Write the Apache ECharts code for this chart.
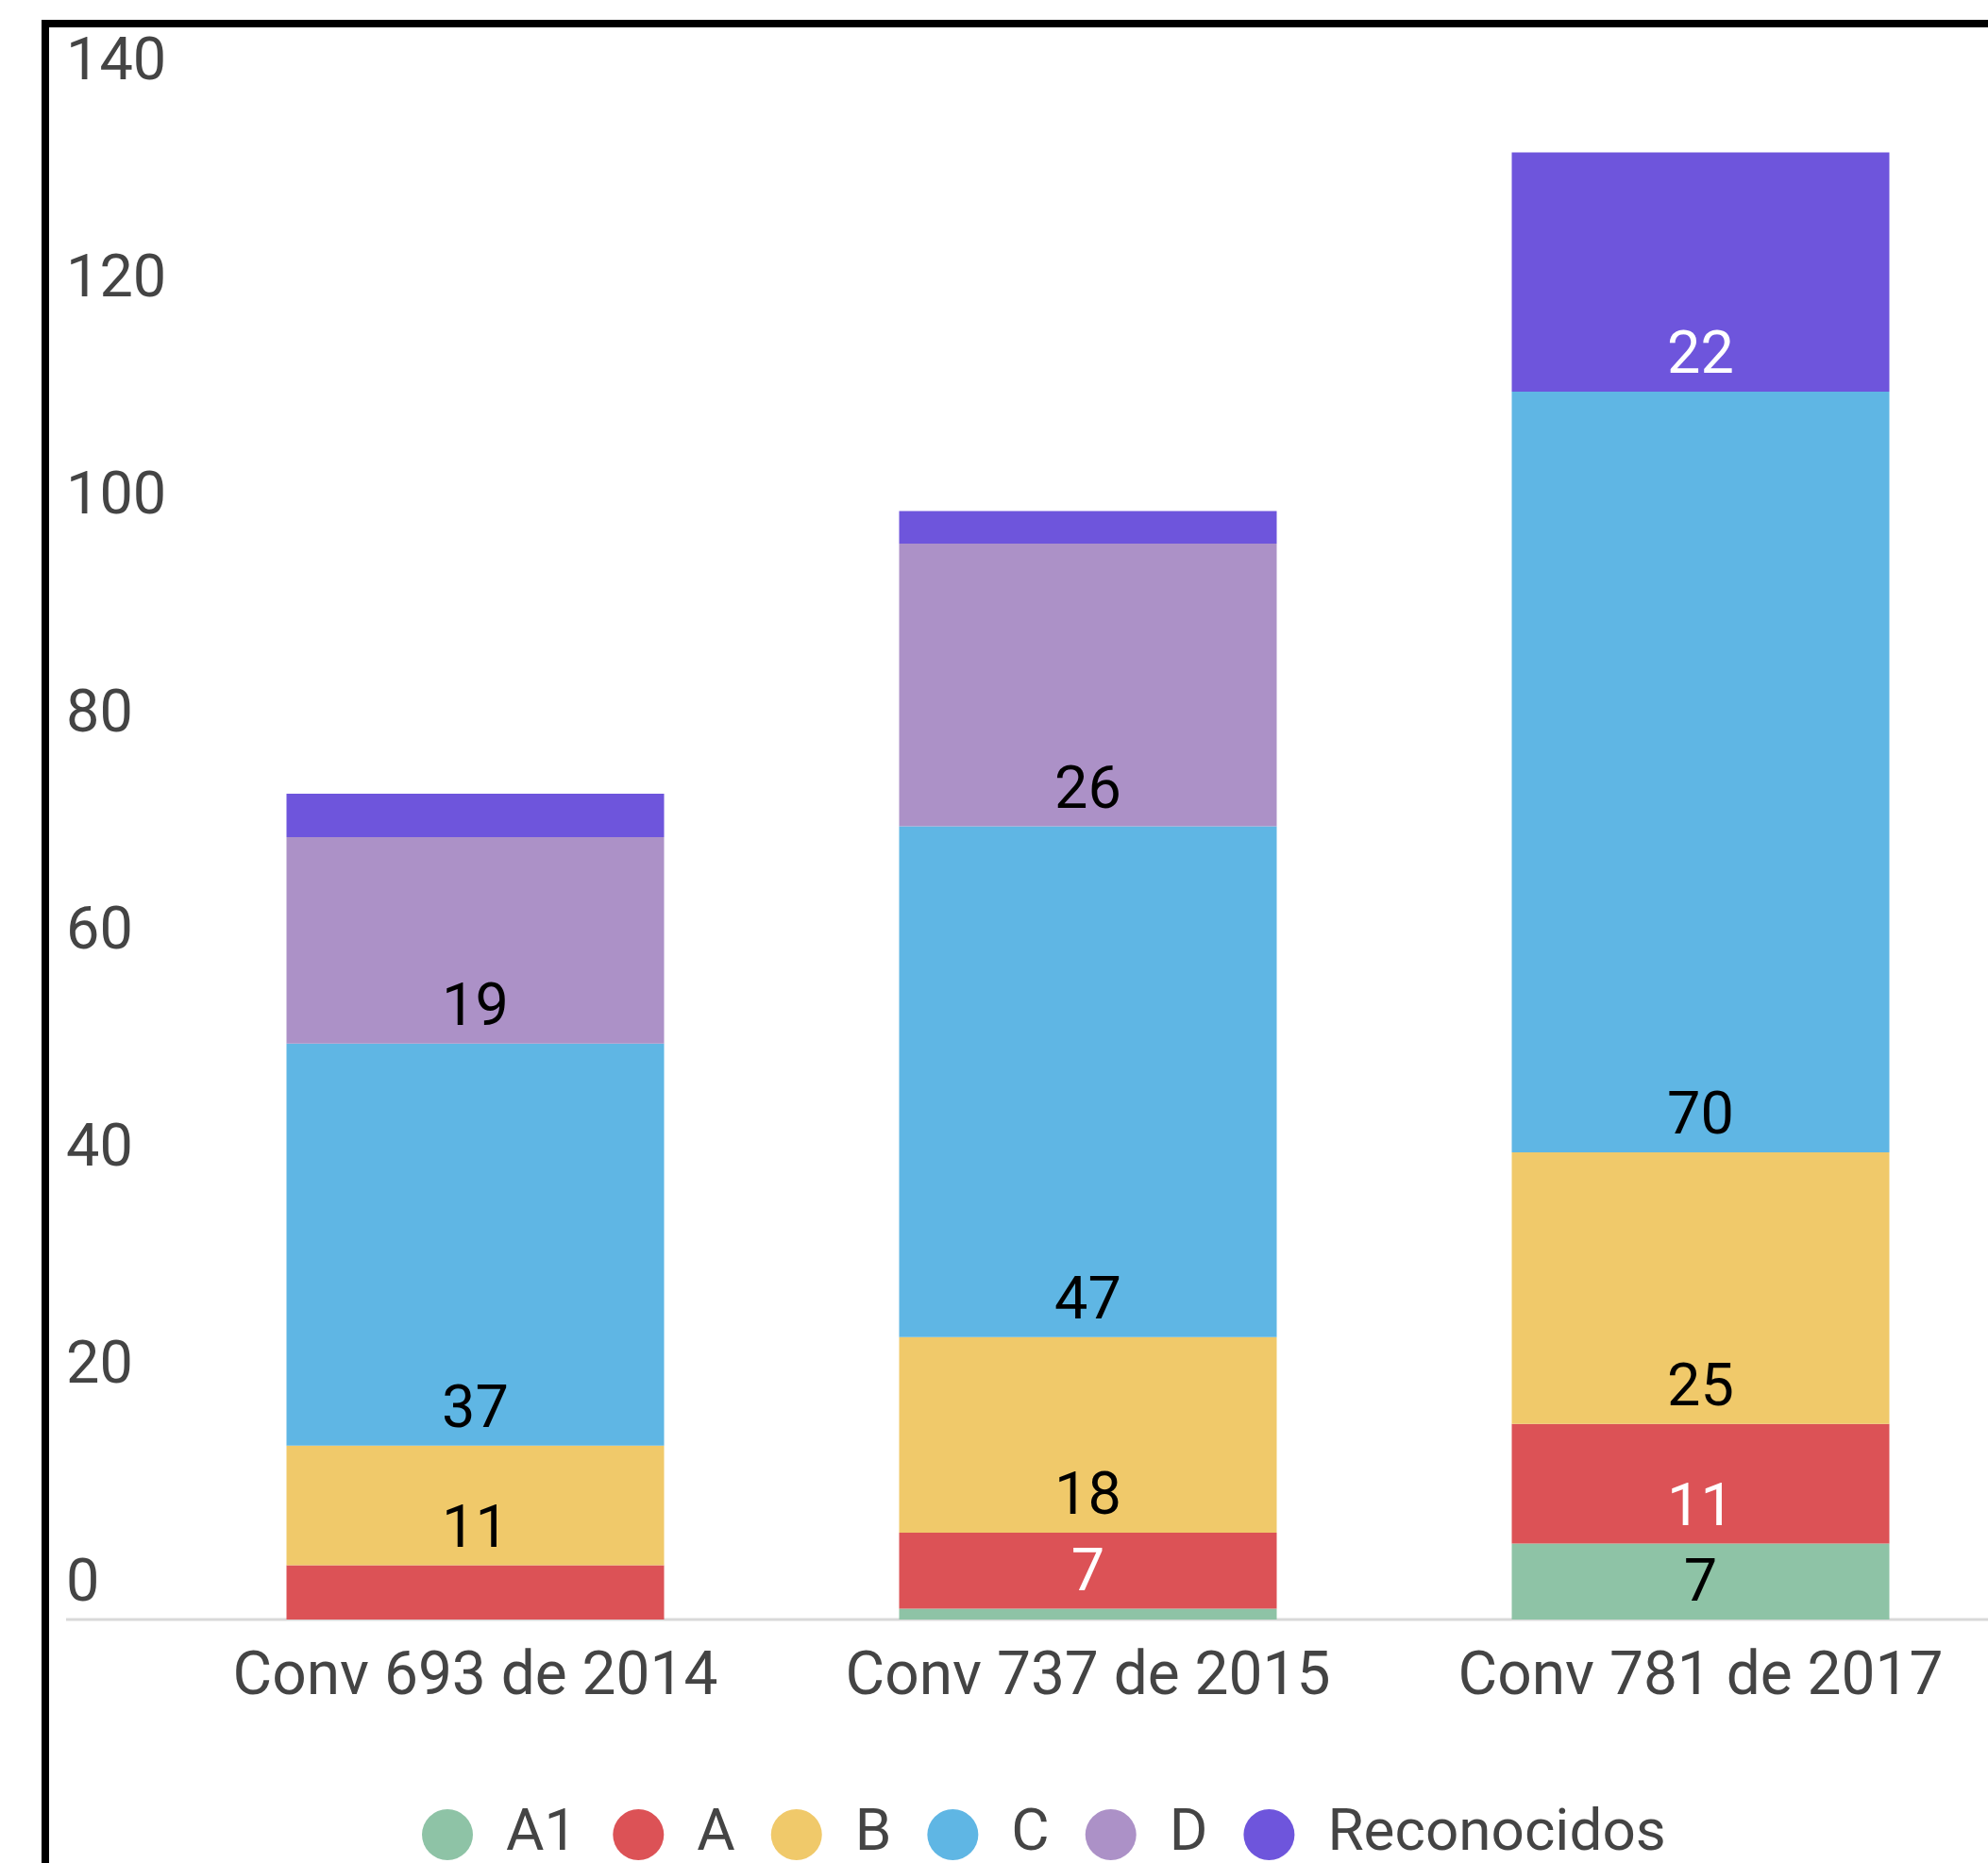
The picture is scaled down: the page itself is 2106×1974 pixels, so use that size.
<!DOCTYPE html>
<html>
<head>
<meta charset="utf-8">
<script src="https://cdn.jsdelivr.net/npm/echarts@6/dist/echarts.min.js"></script>
<style>
  html, body { margin: 0; padding: 0; background: #fff; overflow: hidden; }
  #chart { width: 2140px; height: 1974px; }
</style>
</head>
<body>
<div id="chart"></div>
<script>
var categories = ['Conv 693 de 2014', 'Conv 737 de 2015', 'Conv 781 de 2017']
var seriesNames = ['A1', 'A', 'B', 'C', 'D', 'Reconocidos']
var valA1 = [0, 1, 7]
var valA = [5, 7, 11]
var valB = [11, 18, 25]
var valC = [37, 47, 70]
var valD = [19, 26, 0]
var valRec = [4, 3, 22]
var yTicks = [0, 20, 40, 60, 80, 100, 120, 140]

var colors = ['#8EC3A6', '#DC5256', '#F0C96A', '#5FB6E4', '#AC91C7', '#6E55DC']
var labelColors = ['#000', '#fff', '#000', '#000', '#000', '#fff']
var allValues = [valA1, valA, valB, valC, valD, valRec]
var font = 'Roboto, "Noto Sans", sans-serif'

var chart = echarts.init(document.getElementById('chart'))

var series = seriesNames.map(function(name, i) {
  return {
    name: name,
    type: 'bar',
    stack: 'total',
    barWidth: 400,
    data: allValues[i],
    itemStyle: { color: colors[i] },
    label: {
      show: true,
      position: 'insideBottom',
      distance: 4,
      color: labelColors[i],
      fontFamily: font,
      fontSize: 63,
      fontWeight: 'normal',
      // segments too short for the text get no label
      formatter: function(p) { return p.value >= 6 ? String(p.value) : '' }
    }
  }
})

chart.setOption({
  animation: false,
  color: colors,
  textStyle: { fontFamily: font },
  grid: { left: 179, top: 104, width: 1947, height: 1612 },
  legend: {
    data: seriesNames,
    left: 442,
    top: 1908,
    icon: 'circle',
    itemWidth: 54,
    itemHeight: 54,
    itemGap: 38,
    textStyle: { fontSize: 62, color: '#444', fontFamily: font, padding: [0, 0, 0, 30] }
  },
  xAxis: {
    type: 'category',
    data: categories,
    axisLine: { show: false },
    axisTick: { show: false },
    axisLabel: { interval: 0, color: '#444', fontSize: 64, fontFamily: font, margin: 31 }
  },
  yAxis: {
    type: 'value',
    min: yTicks[0],
    max: yTicks[yTicks.length - 1],
    interval: 20,
    splitLine: { show: false },
    axisLine: { show: false },
    axisTick: { show: false },
    axisLabel: {
      color: '#444',
      fontSize: 63,
      fontFamily: font,
      align: 'left',
      verticalAlign: 'bottom',
      lineHeight: 72,
      margin: 109
    }
  },
  series: series
})

// baseline + frame (google-chart style)
var y0 = chart.convertToPixel({ yAxisIndex: 0 }, 0)
chart.setOption({
  graphic: [
    { type: 'line', shape: { x1: 70, y1: y0, x2: 2140, y2: y0 }, style: { stroke: '#d9d9d9', lineWidth: 3 } },
    { type: 'line', shape: { x1: 48, y1: 21, x2: 48, y2: 1974 }, style: { stroke: '#000', lineWidth: 8 } },
    { type: 'line', shape: { x1: 44, y1: 25, x2: 2140, y2: 25 }, style: { stroke: '#000', lineWidth: 8 } }
  ]
})
</script>
</body>
</html>
